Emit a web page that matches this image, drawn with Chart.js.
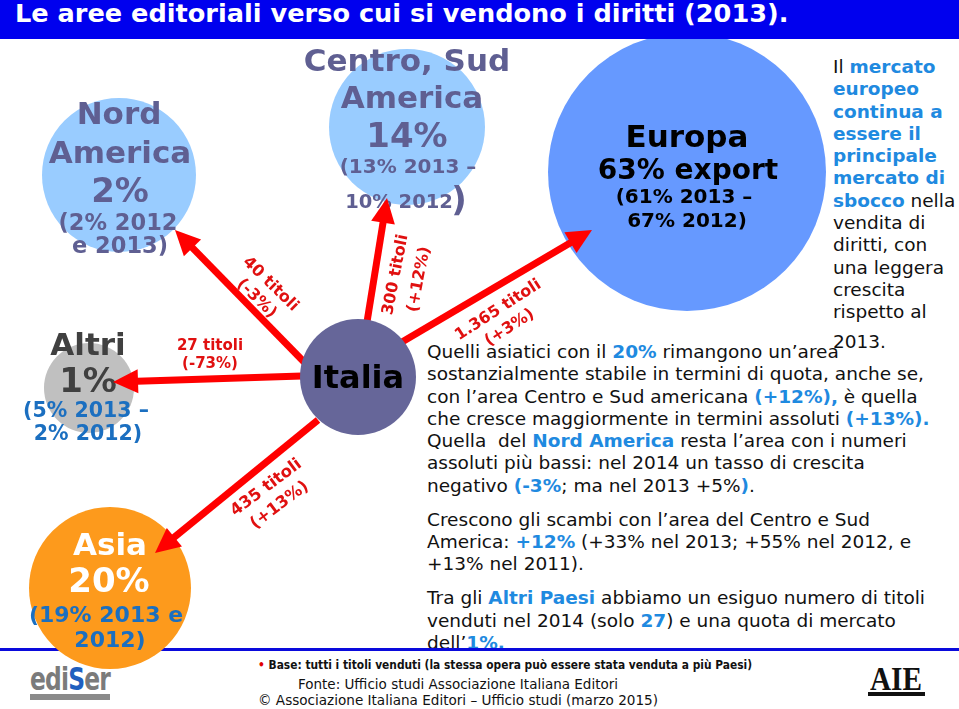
<!DOCTYPE html>
<html lang="it">
<head>
<meta charset="utf-8">
<title>Le aree editoriali verso cui si vendono i diritti (2013)</title>
<script src="https://cdn.jsdelivr.net/npm/chart.js@4.4.1/dist/chart.umd.min.js"></script>
<style>
  html, body { margin: 0; padding: 0; background: #fff; }
  #pagina { position: relative; width: 959px; height: 709px; overflow: hidden; background: #fff; font-family: "DejaVu Sans", Verdana, sans-serif; }
  #grafico { position: absolute; left: 0; top: 0; z-index: 3; }
  #titolo { position: absolute; left: 0; top: 0; width: 959px; height: 39px; background: #0000ee; z-index: 4; }
  #titolo span { position: absolute; left: 15px; top: 1px; color: #fff; font-weight: bold; font-size: 25.6px; line-height: 1; white-space: nowrap; }
  .testo { position: absolute; z-index: 1; font-size: 18.5px; line-height: 22.3px; color: #111; white-space: nowrap; }
  .testo b { color: #1f8ae0; }
  .testo .stacco { display: block; margin-top: 11.7px; }
  #destra { left: 833px; top: 56px; }
  #destra .ultima { display: block; margin-top: 7px; }
  #sotto { left: 427px; top: 341px; }
  #linea { position: absolute; left: 0; top: 648px; width: 959px; height: 3px; background: #0a0adc; z-index: 2; }
  .piede { position: absolute; z-index: 2; white-space: nowrap; font-family: "DejaVu Sans Condensed", "Liberation Sans Narrow", "DejaVu Sans", sans-serif; font-stretch: condensed; color: #111; transform-origin: 0 0; line-height: 1; }
  #base { left: 258px; top: 659px; font-size: 12.5px; font-weight: bold; }
  #fonte { left: 298px; top: 677px; font-size: 14px; }
  #copy { left: 258px; top: 693px; font-size: 14px; }
  #ediser { left: 30px; top: 663px; font-size: 32px; font-weight: bold; color: #7b7b7b; letter-spacing: -1px; }
  #ediser span { color: #1f5fbf; }
  #barraEdiser { position: absolute; left: 30px; top: 694px; width: 80px; height: 6px; background: #8a8a8a; z-index: 2; }
  #aie { left: 870px; top: 662px; font-family: "Liberation Serif", "DejaVu Serif", serif; font-size: 34px; font-weight: bold; color: #111; }
  #barraAie { position: absolute; left: 868px; top: 692px; width: 57px; height: 4px; background: #111; z-index: 2; }
</style>
</head>
<body>
<div id="pagina">
  <div class="testo" id="destra">Il <b>mercato</b><br><b>europeo</b><br><b>continua a</b><br><b>essere il</b><br><b>principale</b><br><b>mercato di</b><br><b>sbocco</b> nella<br>vendita di<br>diritti, con<br>una leggera<br>crescita<br>rispetto al<span class="ultima">2013.</span></div>

  <div class="testo" id="sotto">Quelli asiatici con il <b>20%</b> rimangono un’area<br>sostanzialmente stabile in termini di quota, anche se,<br>con l’area Centro e Sud americana <b>(+12%),</b> è quella<br>che cresce maggiormente in termini assoluti <b>(+13%).</b><br>Quella&nbsp; del <b>Nord America</b> resta l’area con i numeri<br>assoluti più bassi: nel 2014 un tasso di crescita<br>negativo <b>(-3%</b>; ma nel 2013 +5%<b>)</b>.<span class="stacco">Crescono gli scambi con l’area del Centro e Sud</span>America: <b>+12%</b> (+33% nel 2013; +55% nel 2012, e<br>+13% nel 2011).<span class="stacco">Tra gli <b>Altri Paesi</b> abbiamo un esiguo numero di titoli</span>venduti nel 2014 (solo <b>27</b>) e una quota di mercato<br>dell’<b>1%.</b></div>

  <div id="linea"></div>
  <canvas id="grafico" width="959" height="709"></canvas>
  <div id="titolo"><span>Le aree editoriali verso cui si vendono i diritti (2013).</span></div>

  <div class="piede" id="base" data-w="494"><span style="color:#e00000">•</span> Base: tutti i titoli venduti (la stessa opera può essere stata venduta a più Paesi)</div>
  <div class="piede" id="fonte" data-w="320">Fonte: Ufficio studi Associazione Italiana Editori</div>
  <div class="piede" id="copy" data-w="400">© Associazione Italiana Editori – Ufficio studi (marzo 2015)</div>
  <div class="piede" id="ediser" data-w="80">edi<span>S</span>er</div>
  <div id="barraEdiser"></div>
  <div class="piede" id="aie" data-w="52">AIE</div>
  <div id="barraAie"></div>
</div>

<script>
/* ======= Dati ======= */
const aree = ["Nord America", "Altri", "Asia", "Centro, Sud America", "Europa"];
const quota2014 = [2, 1, 20, 14, 63];
const quota2013 = [2, 5, 19, 13, 61];
const quota2012 = [2, 2, 19, 10, 67];
const titoli = [40, 27, 435, 300, 1365];
const variazione = ["-3%", "-73%", "+13%", "+12%", "+3%"];

/* ======= Impaginazione (pixel della tavola) ======= */
const centri = [[119, 175], [89, 388], [110, 588], [407, 127], [687, 172]];
const raggi = [77, 45, 81, 78, 139];
const coloriCerchi = ["#99ccff", "#c0c0c0", "#fd9a1c", "#99ccff", "#6699ff"];
const italia = { x: 358, y: 377, r: 58 };
const partenze = [[306, 364], [302, 376], [318, 420], [367, 322], [402, 342]];
const punte = [[175, 230], [113, 382], [155, 553], [387, 198], [592, 230]];
const LUNGH_PUNTA = 24;
const LARGH_PUNTA = 24;
const ROSSO = "#ff0000";

const ardesia = "#5f5f92";
const bluScritte = "#1b6fc0";

function fmt(n) {
  return String(n).replace(/\B(?=(\d{3})+(?!\d))/g, ".");
}

// righe di testo dentro i cerchi: [testo, x, y, dimensione, colore]
const etichetteCerchi = [
  [
    ["Nord", 119, 124, 31, ardesia],
    ["America", 120, 163, 31, ardesia],
    [quota2014[0] + "%", 120, 202, 34, ardesia],
    ["(" + quota2012[0] + "% 2012", 118, 230, 22.5, ardesia],
    ["e 2013)", 120, 253, 22.5, ardesia]
  ],
  [
    ["Altri", 88, 355, 31, "#404040"],
    [quota2014[1] + "%", 88, 392, 34, "#404040"],
    ["(" + quota2013[1] + "% 2013 –", 86, 417, 20.5, bluScritte],
    [quota2012[1] + "% 2012)", 88, 440, 20.5, bluScritte]
  ],
  [
    ["Asia", 110, 555, 31, "#ffffff"],
    [quota2014[2] + "%", 109, 592, 34, "#ffffff"],
    ["(" + quota2013[2] + "% 2013 e", 106, 622, 22, bluScritte],
    ["2012)", 110, 647, 22, bluScritte]
  ],
  [
    ["Centro, Sud", 407, 71, 31, ardesia],
    ["America", 412, 108, 31, ardesia],
    [quota2014[3] + "%", 407, 147, 34, ardesia],
    ["(" + quota2013[3] + "% 2013 –", 408, 173, 20, ardesia],
    [quota2012[3] + "% 2012", 399, 208, 19.5, ardesia],
    [")", 459, 211, 34, ardesia]
  ],
  [
    ["Europa", 687, 147, 31, "#000000"],
    [quota2014[4] + "% export", 688, 179, 28, "#000000"],
    ["(" + quota2013[4] + "% 2013 –", 684, 203, 20, "#000000"],
    [quota2012[4] + "% 2012)", 687, 227, 20, "#000000"]
  ]
];

// etichette delle frecce: centro, angolo (gradi), interlinea, dimensione
const posFrecce = [
  { x: 263.5, y: 291.5, a: 44, d: 20, s: 16 },
  { x: 210, y: 355.5, a: 0, d: 18, s: 15 },
  { x: 273, y: 496.5, a: -37, d: 22, s: 16.5 },
  { x: 407.5, y: 277, a: -79, d: 24, s: 16 },
  { x: 504, y: 319, a: -33, d: 21, s: 16 }
];

function scrivi(ctx, chart, e) {
  const x = chart.scales.x.getPixelForValue(e[1]);
  const y = chart.scales.y.getPixelForValue(e[2]);
  ctx.save();
  ctx.font = "bold " + e[3] + "px 'DejaVu Sans', Verdana, sans-serif";
  ctx.fillStyle = e[4];
  ctx.textAlign = "center";
  ctx.textBaseline = "alphabetic";
  ctx.fillText(e[0], x, y);
  ctx.restore();
}

function disegnaPunta(ctx, punti) {
  const a = punti[0], b = punti[punti.length - 1];
  const ang = Math.atan2(b.y - a.y, b.x - a.x);
  ctx.save();
  ctx.translate(b.x, b.y);
  ctx.rotate(ang);
  ctx.fillStyle = ROSSO;
  ctx.beginPath();
  ctx.moveTo(-1, -LARGH_PUNTA / 2);
  ctx.lineTo(LUNGH_PUNTA, 0);
  ctx.lineTo(-1, LARGH_PUNTA / 2);
  ctx.closePath();
  ctx.fill();
  ctx.restore();
}

const pluginTesti = {
  id: "testi",
  afterDatasetDraw(chart, args) {
    const ctx = chart.ctx;
    const ds = chart.data.datasets[args.index];
    if (ds.ruolo === "cerchi") {
      etichetteCerchi.forEach(lista => lista.forEach(e => scrivi(ctx, chart, e)));
    } else if (ds.ruolo === "freccia") {
      disegnaPunta(ctx, args.meta.data);
    } else if (ds.ruolo === "italia") {
      scrivi(ctx, chart, ["Italia", 358, 388, 32, "#000000"]);
    }
  },
  afterDatasetsDraw(chart) {
    const ctx = chart.ctx;
    posFrecce.forEach((p, i) => {
      const righe = [fmt(titoli[i]) + " titoli", "(" + variazione[i] + ")"];
      ctx.save();
      ctx.translate(chart.scales.x.getPixelForValue(p.x), chart.scales.y.getPixelForValue(p.y));
      ctx.rotate(p.a * Math.PI / 180);
      ctx.font = "bold " + p.s + "px 'DejaVu Sans', Verdana, sans-serif";
      ctx.fillStyle = "#e01010";
      ctx.textAlign = "center";
      ctx.textBaseline = "middle";
      ctx.fillText(righe[0], 0, -p.d / 2);
      ctx.fillText(righe[1], 0, p.d / 2);
      ctx.restore();
    });
  }
};

/* ======= Grafico ======= */
function creaGrafico() {
  const cerchi = {
    type: "bubble",
    ruolo: "cerchi",
    order: 3,
    data: aree.map((nome, i) => ({ x: centri[i][0], y: centri[i][1], r: raggi[i] })),
    backgroundColor: coloriCerchi,
    borderWidth: 0,
    clip: false
  };

  const frecce = aree.map((nome, i) => {
    const [sx, sy] = partenze[i];
    const [tx, ty] = punte[i];
    const l = Math.hypot(tx - sx, ty - sy);
    const bx = tx - (tx - sx) / l * LUNGH_PUNTA;
    const by = ty - (ty - sy) / l * LUNGH_PUNTA;
    return {
      type: "line",
      ruolo: "freccia",
      label: nome,
      order: 2,
      data: [{ x: sx, y: sy }, { x: bx, y: by }],
      borderColor: ROSSO,
      borderWidth: 7,
      borderCapStyle: "butt",
      pointRadius: 0,
      fill: false,
      showLine: true,
      clip: false
    };
  });

  const centroItalia = {
    type: "bubble",
    ruolo: "italia",
    order: 1,
    data: [{ x: italia.x, y: italia.y, r: italia.r }],
    backgroundColor: "#666699",
    borderWidth: 0,
    clip: false
  };

  new Chart(document.getElementById("grafico"), {
    type: "bubble",
    data: { datasets: [cerchi, ...frecce, centroItalia] },
    options: {
      responsive: false,
      devicePixelRatio: 1,
      animation: false,
      layout: { padding: 0, autoPadding: false },
      plugins: { legend: { display: false }, tooltip: { enabled: false } },
      events: [],
      scales: {
        x: { type: "linear", min: 0, max: 959, display: false },
        y: { type: "linear", min: 0, max: 709, reverse: true, display: false }
      }
    },
    plugins: [pluginTesti]
  });
}

/* ======= Adatta la larghezza dei testi del piede ======= */
function adattaPiede() {
  document.querySelectorAll("[data-w]").forEach(el => {
    el.style.display = "inline-block";
    const w = el.getBoundingClientRect().width;
    if (w > 0) el.style.transform = "scaleX(" + (Number(el.dataset.w) / w) + ")";
  });
}

creaGrafico();
adattaPiede();
</script>
</body>
</html>
